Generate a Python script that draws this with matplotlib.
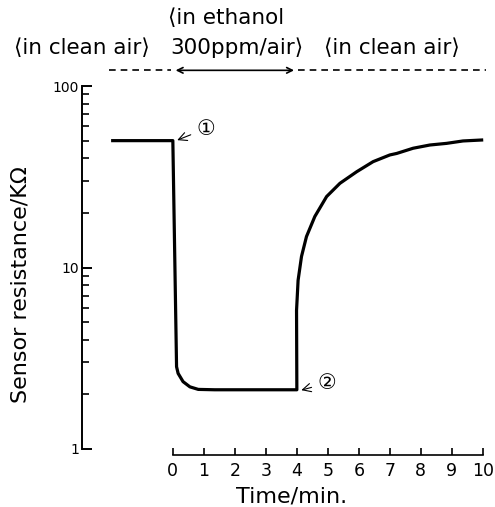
import numpy as np
import matplotlib
matplotlib.use('Agg')
import matplotlib.pyplot as plt
from matplotlib.ticker import LogLocator, FixedLocator, NullFormatter

plt.rcParams['font.family'] = ['DejaVu Sans', 'Noto Sans CJK JP']

# curve (time in min, resistance in kOhm)
t_air = [-1.94, 0.0]
r_air = [50, 50]
t_drop = [0.0, 0.12, 0.17, 0.33, 0.55, 0.82, 1.35, 2.5, 4.0]
r_drop = [50, 2.84, 2.61, 2.35, 2.20, 2.13, 2.12, 2.12, 2.12]
t_rec = [4.0, 3.99, 4.04, 4.15, 4.31, 4.58, 4.96, 5.39, 5.93, 6.46, 7.0,
         7.22, 7.75, 8.29, 8.83, 9.36, 9.96]
r_rec = [2.12, 5.8, 8.5, 11.5, 14.8, 19.1, 24.6, 29.1, 33.7, 38.3, 41.7,
         42.5, 45.4, 47.3, 48.3, 49.8, 50.4]

x_ticks = list(range(0, 11))
y_ticks = [1, 10, 100]
y_ticklabels = ['1', '10', '100']

t = t_air + t_drop[1:] + t_rec[1:]
r = r_air + r_drop[1:] + r_rec[1:]

fig = plt.figure(figsize=(4.95, 5.07), dpi=100)
ax = fig.add_axes([82 / 495, 1 - 449 / 507, (490 - 82) / 495, (449 - 86) / 507])

ax.plot(t, r, color='black', lw=2.3, solid_joinstyle='round')
ax.set_yscale('log')
ax.set_ylim(1, 100)
ax.set_xlim(-2.93, 10.23)

for s in ['top', 'right']:
    ax.spines[s].set_visible(False)
ax.spines['left'].set_linewidth(1.4)
ax.spines['bottom'].set_linewidth(1.2)
ax.spines['bottom'].set_bounds(0, 10)
ax.spines['bottom'].set_position(('outward', 4))

ax.xaxis.set_major_locator(FixedLocator(x_ticks))
ax.set_xticklabels([str(v) for v in x_ticks], fontsize=12.5)
ax.yaxis.set_major_locator(FixedLocator(y_ticks))
ax.set_yticklabels(y_ticklabels, fontsize=10)
ax.yaxis.set_minor_locator(LogLocator(base=10, subs=np.arange(2, 10)))
ax.yaxis.set_minor_formatter(NullFormatter())
ax.tick_params(axis='x', direction='in', length=5, width=1.2, pad=5)
ax.tick_params(axis='y', which='major', direction='in', length=7, width=1.4, pad=2)
ax.tick_params(axis='y', which='minor', direction='in', length=5, width=1.2)

ax.set_ylabel('Sensor resistance/KΩ', fontsize=16)
ax.yaxis.set_label_coords(-(82 - 30) / (490 - 82), (449 - 285) / (449 - 86))
ax.set_xlabel('Time/min.', fontsize=16)
ax.xaxis.set_label_coords((292 - 82) / (490 - 82), -(497 - 449) / (449 - 86))
ax.xaxis.label.set_va('center')

# dashed marker lines and arrow above the plot
y_top = 122
ax.plot([-2.05, -0.05], [y_top, y_top], color='black', lw=1.2, ls=(0, (4, 3)), clip_on=False)
ax.plot([4.05, 10.1], [y_top, y_top], color='black', lw=1.2, ls=(0, (4, 3)), clip_on=False)
ax.annotate('', xy=(0, y_top), xytext=(4.0, y_top), annotation_clip=False,
            arrowprops=dict(arrowstyle='<->', color='black', lw=1.2))

fig.text(82 / 495, 1 - 48 / 507, '⟨in clean air⟩', fontsize=15.5, ha='center', va='center')
fig.text(168 / 495, 1 - 18 / 507, '⟨in ethanol', fontsize=15.5, ha='left', va='center')
fig.text(170 / 495, 1 - 48 / 507, '300ppm/air⟩', fontsize=15.5, ha='left', va='center')
fig.text(392 / 495, 1 - 48 / 507, '⟨in clean air⟩', fontsize=15.5, ha='center', va='center')

# circled markers
ax.annotate('①', xy=(0.1, 50), xytext=(0.75, 58), fontsize=15, ha='left', va='center',
            arrowprops=dict(arrowstyle='->', color='black', lw=0.8, shrinkB=1))
ax.annotate('②', xy=(4.1, 2.1), xytext=(4.65, 2.3), fontsize=15, ha='left', va='center',
            arrowprops=dict(arrowstyle='->', color='black', lw=0.8, shrinkB=1))

fig.savefig('out.png', dpi=100)
